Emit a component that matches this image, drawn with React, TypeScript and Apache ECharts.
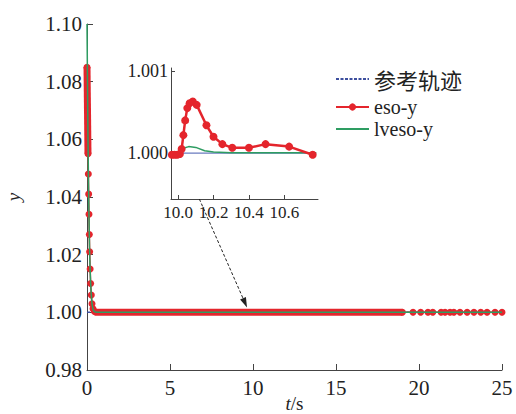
import React, { useEffect, useRef } from 'react';
import * as echarts from 'echarts';

// ---- data ----
const legendNames = ['参考轨迹', 'eso-y', 'lveso-y'];

const mainXTicks = [0, 5, 10, 15, 20, 25];
const mainYTicks = [0.98, 1.0, 1.02, 1.04, 1.06, 1.08, 1.1];

const refMain: number[][] = [[0, 1.0], [25, 1.0]];

const esoDescent: number[][] = [
  [0.0, 1.085], [0.03, 1.07], [0.06, 1.055], [0.08, 1.048], [0.1, 1.041],
  [0.12, 1.034], [0.14, 1.027], [0.16, 1.021], [0.19, 1.015], [0.22, 1.01],
  [0.26, 1.006], [0.3, 1.003], [0.36, 1.0012], [0.45, 1.0003], [19.0, 1.0],
];
const esoSparseT = [19.64, 20.1, 20.54, 20.83, 21.33, 21.57, 21.87, 22.1, 22.47, 22.9, 23.31, 23.72, 24.1, 24.58, 25.0];
const esoSparseY = [1.0, 1.0, 1.0, 1.0, 1.0, 1.0, 1.0, 1.0, 1.0, 1.0, 1.0, 1.0, 1.0, 1.0, 1.0];

const esoBandSpike: number[][] = [[0.0, 1.085], [0.06, 1.055]];
const esoBandFlat: number[][] = [[0.45, 1.0], [19.0, 1.0]];

const lvesoMain: number[][] = [
  [0.0, 1.1], [0.03, 1.08], [0.06, 1.06], [0.09, 1.045], [0.12, 1.033],
  [0.15, 1.023], [0.18, 1.016], [0.22, 1.01], [0.26, 1.006], [0.3, 1.003],
  [0.36, 1.001], [0.45, 1.0002], [0.6, 1.0], [25, 1.0],
];

// inset
const insetXTicks = [10.0, 10.2, 10.4, 10.6];
const insetYTicks = [1.0, 1.001];
const refInset: number[][] = [[9.96, 1.0], [10.78, 1.0]];
const esoInset: number[][] = [
  [9.965, 0.99998], [9.98, 0.99998], [9.995, 0.99998], [10.01, 0.99999],
  [10.02, 1.00005], [10.03, 1.00022], [10.04, 1.0004], [10.052, 1.00055],
  [10.065, 1.00061], [10.083, 1.00063], [10.105, 1.00059], [10.16, 1.00034],
  [10.2, 1.0002], [10.25, 1.00011], [10.306, 1.000065], [10.4, 1.000065],
  [10.494, 1.00011], [10.627, 1.00008], [10.76, 0.99998],
];
const lvesoInset: number[][] = [
  [9.96, 1.0], [10.0, 1.0], [10.03, 1.00006], [10.06, 1.00008], [10.1, 1.00007],
  [10.15, 1.00003], [10.2, 1.000015], [10.3, 1.000005], [10.78, 1.000005],
];

const RED = '#e4252c';
const GREEN = '#2e9d62';
const BLUE = '#3d4f9e';
const SERIF = 'Liberation Serif';
const CJK = 'Noto Sans CJK SC';
const TXT = '#222';

export default function App() {
  const ref = useRef<HTMLDivElement>(null);

  useEffect(() => {
    if (!ref.current) return;
    const chart = echarts.init(ref.current, undefined, { renderer: 'svg' });

    const esoMain = [...esoDescent, ...esoSparseT.map((t, i) => [t, esoSparseY[i]])];

    const axisLine = { show: true, lineStyle: { color: '#444', width: 1 } };
    const hiddenSymbol = { color: 'transparent', borderColor: 'transparent', borderWidth: 0 };

    const option: any = {
      animation: false,
      backgroundColor: '#fff',
      textStyle: { fontFamily: SERIF },
      grid: [
        { left: 87, right: 14, top: 24, bottom: 44, containLabel: false, outerBoundsMode: 'none' },
        { left: 171, top: 68, width: 147, height: 131, containLabel: false, outerBoundsMode: 'none' },
      ],
      legend: [
        {
          data: [legendNames[0]], left: 335, top: 68, orient: 'vertical', padding: 0,
          itemWidth: 33, itemHeight: 14, itemGap: 5, itemStyle: hiddenSymbol,
          textStyle: { fontFamily: CJK, fontSize: 22, color: TXT },
        },
        {
          data: [legendNames[1]], left: 335, top: 97, orient: 'vertical', padding: 0,
          itemWidth: 33, itemHeight: 9,
          textStyle: { fontFamily: SERIF, fontSize: 20, color: TXT },
        },
        {
          data: [legendNames[2]], left: 335, top: 119, orient: 'vertical', padding: 0,
          itemWidth: 33, itemHeight: 14, itemStyle: hiddenSymbol,
          textStyle: { fontFamily: SERIF, fontSize: 20, color: TXT },
        },
      ],
      xAxis: [
        {
          type: 'value', gridIndex: 0, min: 0, max: 25, interval: 5,
          axisLine, splitLine: { show: false },
          axisTick: { show: true, inside: true, length: 6, lineStyle: { color: '#444' } },
          axisLabel: { fontFamily: SERIF, fontSize: 21, color: TXT, margin: 7,
            customValues: mainXTicks, formatter: (v: number) => String(v) },
          name: '{i|t}/s', nameLocation: 'middle', nameGap: 24, nameMoveOverlap: false,
          nameTextStyle: { fontFamily: SERIF, fontSize: 19, color: TXT,
            rich: { i: { fontFamily: SERIF, fontSize: 19, fontStyle: 'italic', color: TXT } } },
        },
        {
          type: 'value', gridIndex: 1, min: 9.96, max: 10.79,
          axisLine, splitLine: { show: false },
          axisTick: { show: true, inside: true, length: 4, customValues: insetXTicks, lineStyle: { color: '#444' } },
          axisLabel: { fontFamily: SERIF, fontSize: 17, color: TXT, margin: 5,
            customValues: insetXTicks, formatter: (v: number) => v.toFixed(1) },
        },
      ],
      yAxis: [
        {
          type: 'value', gridIndex: 0, min: 0.98, max: 1.1, interval: 0.02,
          axisLine, splitLine: { show: false },
          axisTick: { show: true, inside: true, length: 6, lineStyle: { color: '#444' } },
          axisLabel: { fontFamily: SERIF, fontSize: 21, color: TXT, margin: 5,
            customValues: mainYTicks, formatter: (v: number) => v.toFixed(2) },
          name: 'y', nameLocation: 'middle', nameGap: 64, nameRotate: 90, nameMoveOverlap: false,
          nameTextStyle: { fontFamily: SERIF, fontSize: 19, fontStyle: 'italic', color: TXT },
        },
        {
          type: 'value', gridIndex: 1, min: 0.99944, max: 1.00104,
          axisLine, splitLine: { show: false },
          axisTick: { show: true, inside: true, length: 4, customValues: insetYTicks, lineStyle: { color: '#444' } },
          axisLabel: { fontFamily: SERIF, fontSize: 18, color: TXT, margin: 3,
            customValues: insetYTicks, formatter: (v: number) => v.toFixed(3) },
        },
      ],
      series: [
        {
          name: legendNames[0], type: 'line', xAxisIndex: 0, yAxisIndex: 0, data: refMain,
          showSymbol: false, symbol: 'none', clip: false,
          lineStyle: { color: BLUE, width: 1.5, type: [3, 1.5] }, itemStyle: { color: BLUE }, z: 2,
        },
        {
          name: legendNames[1], type: 'line', xAxisIndex: 0, yAxisIndex: 0, data: esoMain,
          symbol: 'circle', symbolSize: 7, showSymbol: true, showAllSymbol: true, clip: false,
          lineStyle: { color: RED, width: 1.5 }, itemStyle: { color: RED }, z: 3,
        },
        {
          type: 'line', xAxisIndex: 0, yAxisIndex: 0, data: esoBandSpike, silent: true,
          symbol: 'none', clip: false, lineStyle: { color: RED, width: 7, cap: 'butt' }, z: 3,
        },
        {
          type: 'line', xAxisIndex: 0, yAxisIndex: 0, data: esoBandFlat, silent: true,
          symbol: 'none', clip: false, lineStyle: { color: RED, width: 7, cap: 'butt' }, z: 3,
        },
        {
          name: legendNames[2], type: 'line', xAxisIndex: 0, yAxisIndex: 0, data: lvesoMain,
          symbol: 'none', showSymbol: false, clip: false,
          lineStyle: { color: GREEN, width: 1.5 }, itemStyle: { color: GREEN }, z: 4,
        },
        {
          name: legendNames[0], type: 'line', xAxisIndex: 1, yAxisIndex: 1, data: refInset,
          symbol: 'none', showSymbol: false, clip: false,
          lineStyle: { color: '#6a7bbf', width: 1.2 }, z: 2,
        },
        {
          name: legendNames[2], type: 'line', xAxisIndex: 1, yAxisIndex: 1, data: lvesoInset,
          symbol: 'none', showSymbol: false, clip: false,
          lineStyle: { color: GREEN, width: 1.5 }, z: 3,
        },
        {
          name: legendNames[1], type: 'line', xAxisIndex: 1, yAxisIndex: 1, data: esoInset,
          symbol: 'circle', symbolSize: 8, showSymbol: true, showAllSymbol: true, clip: false,
          lineStyle: { color: RED, width: 2.5 }, itemStyle: { color: RED }, z: 4,
        },
      ],
    };

    chart.setOption(option);

    // annotation arrow from inset to main curve
    const p0 = chart.convertToPixel({ gridIndex: 1 } as any, [10.12, 0.99944]) as number[];
    const p1 = chart.convertToPixel({ gridIndex: 0 } as any, [9.64, 1.0017]) as number[];
    if (p0 && p1) {
      const dx = p1[0] - p0[0];
      const dy = p1[1] - p0[1];
      const len = Math.sqrt(dx * dx + dy * dy) || 1;
      const ux = dx / len;
      const uy = dy / len;
      const headL = 10;
      const headW = 3.2;
      const bx = p1[0] - ux * headL;
      const by = p1[1] - uy * headL;
      chart.setOption({
        graphic: [
          {
            type: 'line', silent: true, z: 10,
            shape: { x1: p0[0], y1: p0[1], x2: bx, y2: by },
            style: { stroke: '#222', lineWidth: 1, lineDash: [3, 2] },
          },
          {
            type: 'polygon', silent: true, z: 10,
            shape: { points: [[p1[0], p1[1]], [bx - uy * headW, by + ux * headW], [bx + uy * headW, by - ux * headW]] },
            style: { fill: '#222' },
          },
        ],
      });
    }

    return () => chart.dispose();
  }, []);

  return (
    <div
      ref={ref}
      style={{ position: 'fixed', left: 0, top: 0, width: 516, height: 414, background: '#fff' }}
    />
  );
}
